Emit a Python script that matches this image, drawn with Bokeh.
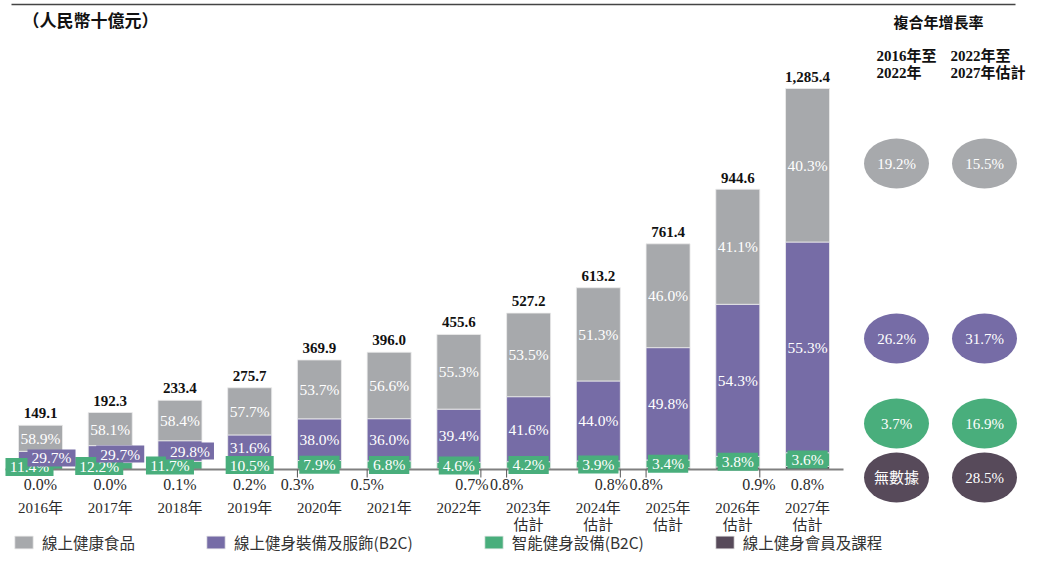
from bokeh.plotting import figure
from bokeh.models import ColumnDataSource, Legend, LegendItem, Range1d
from bokeh.core.properties import value
from bokeh.embed import file_html
from bokeh.resources import INLINE

# ---------------- data ----------------
years = ["2016年", "2017年", "2018年", "2019年", "2020年", "2021年", "2022年",
         "2023年", "2024年", "2025年", "2026年", "2027年"]
est_tag = ["", "", "", "", "", "", "", "估計", "估計", "估計", "估計", "估計"]
totals = [149.1, 192.3, 233.4, 275.7, 369.9, 396.0, 455.6, 527.2, 613.2, 761.4, 944.6, 1285.4]
food_pct = [58.9, 58.1, 58.4, 57.7, 53.7, 56.6, 55.3, 53.5, 51.3, 46.0, 41.1, 40.3]
gear_pct = [29.7, 29.7, 29.8, 31.6, 38.0, 36.0, 39.4, 41.6, 44.0, 49.8, 54.3, 55.3]
smart_pct = [11.4, 12.2, 11.7, 10.5, 7.9, 6.8, 4.6, 4.2, 3.9, 3.4, 3.8, 3.6]
member_pct = [0.0, 0.0, 0.1, 0.2, 0.3, 0.5, 0.7, 0.8, 0.8, 0.8, 0.9, 0.8]
series_names = ["線上健康食品", "線上健身裝備及服飾(B2C)", "智能健身設備(B2C)", "線上健身會員及課程"]
cagr_2016_2022 = ["19.2%", "26.2%", "3.7%", "無數據"]
cagr_2022_2027 = ["15.5%", "31.7%", "16.9%", "28.5%"]
title_text = "（人民幣十億元）"
cagr_title = "複合年增長率"
cagr_head_1 = ["2016年至", "2022年"]
cagr_head_2 = ["2022年至", "2027年估計"]

# ---------------- layout / style ----------------
W, H = 1027, 554
PX_X = 69.73            # px per category step
X0_PX = 40              # first bar centre, px from left
PX_Y = 381 / 1285.4     # px per RMB bn
BASE_PX = 469           # baseline, px from top
BAR_W = 0.631
C_FOOD, C_GEAR, C_SMART, C_MEM = "#A7A9AC", "#766CA6", "#49AE7C", "#574A5A"
SERIF = "Liberation Serif, Noto Sans CJK TC"
CJK = "Noto Sans CJK TC"
TXT = "#2b2b2b"

gear_off_px = [11, 10, 10, 0, 0, 0, 0, 0, 0, 0, 0, 0]
smart_off_px = [-11, -11, -10, 0, 0, 0, 0, 0, 0, 0, 0, 0]
mem_off_px = [0, 0, 0, 0, -22, -22, 13, -22, 13, -22, 21, 0]
mem_tick_side = [0, 0, 0, 0, -1, -1, 1, -1, 1, -1, 1, 0]


def fx(px):
    return (px - X0_PX) / PX_X


def fy(py):
    return (BASE_PX - py) / PX_Y


def dx(px):
    return px / PX_X


def pct_w(s, size):
    # approximate rendered width of a percentage string for label boxes
    w = 0
    for ch in s:
        w += 0.25 if ch == "." else (0.833 if ch == "%" else 0.5)
    return w * size + 8


p = figure(width=W, height=H, x_range=Range1d(fx(0), fx(W)), y_range=Range1d(fy(H), fy(0)),
           output_backend="svg", toolbar_location=None, min_border=0,
           min_border_left=0, min_border_right=0, min_border_top=0, min_border_bottom=0,
           x_axis_location=None, y_axis_location=None, outline_line_color=None,
           background_fill_color="white", border_fill_color="white")
p.xgrid.visible = False
p.ygrid.visible = False

n = len(years)
idx = list(range(n))
mem = [t * v / 100 for t, v in zip(totals, member_pct)]
smart = [t * v / 100 for t, v in zip(totals, smart_pct)]
gear = [t * v / 100 for t, v in zip(totals, gear_pct)]
food = [t * v / 100 for t, v in zip(totals, food_pct)]

src = ColumnDataSource(dict(
    x=idx, member=mem, smart=smart, gear=gear, food=food,
    total=totals, total_lbl=["{:,.1f}".format(t) for t in totals],
    year=years, est=est_tag,
    food_y=[m + s + g + f / 2 for m, s, g, f in zip(mem, smart, gear, food)],
    food_lbl=["{:.1f}%".format(v) for v in food_pct],
    gear_y=[m + s + g / 2 for m, s, g in zip(mem, smart, gear)],
    gear_x=[i + dx(o) for i, o in zip(idx, gear_off_px)],
    gear_lbl=["{:.1f}%".format(v) for v in gear_pct],
    smart_y=[m + s / 2 for m, s in zip(mem, smart)],
    smart_x=[i + dx(o) for i, o in zip(idx, smart_off_px)],
    smart_lbl=["{:.1f}%".format(v) for v in smart_pct],
    smart_bw=[pct_w("{:.1f}%".format(v), 15.5) for v in smart_pct],
    mem_x=[i + dx(o) for i, o in zip(idx, mem_off_px)],
    mem_lbl=["{:.1f}%".format(v) for v in member_pct],
))

rs = p.vbar_stack(["member", "smart", "gear", "food"], x="x", width=BAR_W,
                  fill_color=[C_MEM, C_SMART, C_GEAR, C_FOOD], line_color="#ececec",
                  line_width=0.8, source=src)

# baseline
p.segment(x0=fx(5), y0=0, x1=fx(843), y1=0, line_color="#808080", line_width=2)

# ticks for offset member labels
tick_x = [i + s * BAR_W / 2 for i, s in zip(idx, mem_tick_side) if s != 0]
p.segment(x0=tick_x, y0=[0] * len(tick_x), x1=tick_x, y1=[fy(BASE_PX + 8)] * len(tick_x),
          line_color="#555555", line_width=1)

lbl_font = "15.5px"
# food labels
p.text(x="x", y="food_y", text="food_lbl", source=src, text_align="center",
       text_baseline="middle", text_color="white", text_font=value(SERIF), text_font_size=lbl_font)

# green (smart) label boxes
p.rect(x="smart_x", y="smart_y", width="smart_bw", height=18, width_units="screen",
       height_units="screen", source=src, fill_color=C_SMART, line_color=None)
p.text(x="smart_x", y="smart_y", text="smart_lbl", source=src, text_align="center",
       text_baseline="middle", text_color="white", text_font=value(SERIF), text_font_size=lbl_font)

# purple (gear) labels; boxes only where shifted out of the bar
boxed = [i for i in idx if gear_off_px[i] != 0]
bsrc = ColumnDataSource(dict(
    x=[src.data["gear_x"][i] for i in boxed],
    y=[src.data["gear_y"][i] for i in boxed],
    w=[pct_w(src.data["gear_lbl"][i], 15.5) for i in boxed],
))
p.rect(x="x", y="y", width="w", height=17, width_units="screen", height_units="screen",
       source=bsrc, fill_color=C_GEAR, line_color=None)
p.text(x="gear_x", y="gear_y", text="gear_lbl", source=src, text_align="center",
       text_baseline="middle", text_color="white", text_font=value(SERIF), text_font_size=lbl_font)

# member labels below baseline
p.text(x="mem_x", y=fy(484), text="mem_lbl", source=src, text_align="center",
       text_baseline="middle", text_color=TXT, text_font=value(SERIF), text_font_size="16px")

# totals
p.text(x="x", y="total", text="total_lbl", source=src, text_align="center",
       text_baseline="middle", y_offset=-12, text_color="#111111", text_font=value(SERIF),
       text_font_size="15px", text_font_style="bold")

# year labels
p.text(x="x", y=fy(507), text="year", source=src, text_align="center",
       text_baseline="middle", text_color=TXT, text_font=value(SERIF), text_font_size="15px")
p.text(x="x", y=fy(524), text="est", source=src, text_align="center",
       text_baseline="middle", text_color=TXT, text_font=value(SERIF), text_font_size="15px")

# top rule and unit title
p.segment(x0=fx(11), y0=fy(4), x1=fx(1015), y1=fy(4), line_color="#444444", line_width=1.5)
p.text(x=[fx(22)], y=[fy(19)], text=[title_text], text_align="left", text_baseline="middle",
       text_color="#111111", text_font=value(CJK), text_font_size="17px", text_font_style="bold")

# CAGR panel
p.text(x=[fx(938)], y=[fy(22)], text=[cagr_title], text_align="center", text_baseline="middle",
       text_color="#111111", text_font=value(SERIF), text_font_size="15px", text_font_style="bold")
p.text(x=[fx(876)] * 2 + [fx(950)] * 2, y=[fy(55), fy(72)] * 2,
       text=cagr_head_1 + cagr_head_2, text_align="left", text_baseline="middle",
       text_color="#111111", text_font=value(SERIF), text_font_size="15px", text_font_style="bold")

row_y = [fy(163), fy(338), fy(423), fy(477)]
row_c = [C_FOOD, C_GEAR, C_SMART, C_MEM]
csrc = ColumnDataSource(dict(
    x=[fx(896)] * 4 + [fx(984)] * 4,
    y=row_y * 2,
    c=row_c * 2,
    t=cagr_2016_2022 + cagr_2022_2027,
))
p.ellipse(x="x", y="y", width=65, height=50, width_units="screen", height_units="screen",
          fill_color="c", line_color=None, source=csrc)
p.text(x="x", y="y", text="t", source=csrc, text_align="center", text_baseline="middle",
       text_color="white", text_font=value(SERIF), text_font_size="15px")

# legend (order: food, gear, smart, member)
items = [LegendItem(label=series_names[0], renderers=[rs[3]]),
         LegendItem(label=series_names[1], renderers=[rs[2]]),
         LegendItem(label=series_names[2], renderers=[rs[1]]),
         LegendItem(label=series_names[3], renderers=[rs[0]])]
legend = Legend(items=items, orientation="horizontal", location=(12, 1),
                glyph_width=23, glyph_height=16, label_standoff=7, spacing=69,
                padding=0, margin=0, border_line_color=None, background_fill_alpha=0,
                label_text_font=CJK, label_text_font_size="15.5px", label_text_color="#333333",
                label_height=16)
p.add_layout(legend)

open("out.html", "w").write(file_html(p, INLINE))
